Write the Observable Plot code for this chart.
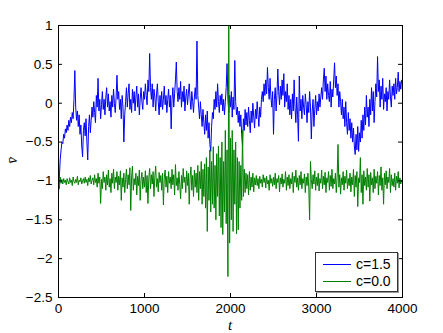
<!DOCTYPE html>
<html><head><meta charset="utf-8">
<script src="https://cdn.jsdelivr.net/npm/d3@7"></script>
<script src="https://cdn.jsdelivr.net/npm/@observablehq/plot@0.6"></script>
<style>
body{margin:0;background:#fff;font-family:"Liberation Sans",Arial,sans-serif}
#wrap{position:relative;width:443px;height:333px;overflow:hidden}
.lab{position:absolute;font-family:"Liberation Serif","DejaVu Serif",serif;font-style:italic;font-size:15px;line-height:1}
.legend{position:absolute;left:315px;top:252px;width:81px;height:38px;border:1px solid #333;background:#fff;box-shadow:1px 1px 0 #999;font-size:14px}
.legend .row{position:absolute;left:0;height:16px;width:81px}
.legend .sw{position:absolute;left:7px;top:8px;width:28px;height:1px}
.legend .tx{position:absolute;left:40px;top:0;line-height:16px}
</style></head><body><div id="wrap"></div>
<script>
const tStep = 10;
const seriesNames = ["c=1.5", "c=0.0"];
const seriesColors = ["#0000ff", "#008000"];
const xTicks = [0, 1000, 2000, 3000, 4000];
const yTicks = [1, 0.5, 0, -0.5, -1, -1.5, -2, -2.5];

const blue = [
-1.15,-0.95,-0.72,-0.60,-0.50,-0.52,-0.40,-0.45,-0.33,-0.38,
-0.28,-0.35,-0.22,-0.30,-0.18,-0.25,-0.12,-0.20,0.05,0.42,
-0.05,-0.22,-0.10,-0.30,-0.15,-0.40,-0.28,-0.55,-0.69,-0.35,
-0.25,-0.42,-0.20,-0.50,-0.73,-0.30,-0.15,-0.38,-0.22,-0.05,
-0.18,0.02,-0.12,-0.25,0.10,-0.05,0.32,-0.10,0.05,-0.20,
-0.02,0.15,-0.08,0.05,-0.15,0.08,0.20,-0.05,0.12,-0.10,
0.02,-0.18,0.10,-0.05,0.18,0.00,-0.12,0.08,0.36,0.05,
0.15,-0.08,0.05,-0.20,0.10,-0.05,-0.50,-0.15,0.02,0.20,
-0.05,0.12,0.25,-0.08,0.05,-0.12,0.18,0.00,0.15,-0.10,
0.08,0.22,-0.05,0.12,-0.15,0.05,0.20,0.02,-0.08,0.15,
0.05,0.25,0.10,-0.02,0.30,0.15,0.64,0.20,0.05,0.25,
-0.05,0.18,0.08,-0.10,0.12,0.25,0.02,-0.15,0.10,-0.05,
0.15,-0.08,0.05,0.22,-0.02,0.10,-0.12,0.05,0.18,-0.05,
0.10,-0.33,0.05,0.20,-0.05,0.12,0.30,0.53,0.15,0.02,
0.20,0.05,0.28,-0.05,0.15,0.02,0.22,-0.10,0.08,0.18,
-0.02,0.12,0.25,0.05,-0.08,0.15,0.02,-0.12,0.08,0.20,
0.05,0.80,0.10,-0.05,-0.20,0.02,-0.15,-0.30,-0.08,-0.25,
-0.40,-0.15,-0.35,-0.10,-0.45,-0.25,-0.53,-0.62,-0.30,-0.12,
-0.20,0.05,-0.08,0.15,-0.05,0.25,0.02,-0.12,0.10,-0.02,
0.12,-0.10,0.05,-0.15,0.02,0.20,0.51,0.05,-0.12,0.10,
-0.05,0.15,-0.18,0.08,-0.08,0.55,0.02,-0.15,-0.05,-0.25,
-0.10,-0.30,-0.15,-0.40,-0.55,-0.20,-0.35,-0.08,-0.28,-0.12,
-0.30,-0.05,-0.22,-0.38,-0.10,-0.25,0.00,-0.18,-0.32,-0.08,
-0.20,0.02,-0.15,-0.30,-0.05,-0.18,0.05,0.15,0.02,0.25,
0.10,0.30,0.12,0.46,0.20,0.05,0.32,0.08,-0.05,0.15,
-0.40,0.05,0.20,-0.10,0.10,0.44,0.15,-0.02,0.22,0.05,
0.30,0.10,0.38,-0.05,0.15,0.02,0.25,-0.08,0.10,-0.15,
0.05,-0.20,0.12,-0.10,0.30,-0.05,-0.25,0.08,-0.15,-0.49,
0.35,-0.10,0.05,-0.20,0.10,-0.05,-0.15,0.12,-0.02,-0.25,
0.02,-0.12,0.15,-0.05,-0.46,-0.10,0.05,-0.30,-0.08,0.10,
-0.15,0.02,-0.10,0.12,-0.05,0.08,0.20,0.05,0.30,0.45,
0.15,0.35,0.05,0.25,0.10,0.02,0.28,-0.05,0.18,0.08,
0.30,0.52,0.20,0.35,0.10,0.25,-0.05,0.15,0.02,-0.15,
0.05,-0.20,-0.05,-0.30,0.02,-0.25,-0.40,-0.12,-0.35,-0.20,
-0.45,-0.25,-0.50,-0.32,-0.55,-0.66,-0.40,-0.60,-0.30,-0.62,
-0.38,-0.50,-0.22,-0.45,-0.15,-0.35,-0.05,-0.28,0.10,-0.18,
-0.05,-0.30,0.05,-0.15,0.20,-0.10,0.15,-0.25,0.02,0.25,
0.08,0.60,0.15,0.30,-0.05,0.22,0.05,0.32,-0.08,0.12,
0.02,0.20,-0.10,0.15,0.05,0.30,0.08,-0.05,0.22,0.10,
0.25,0.05,0.32,0.12,0.20,0.40,0.15,0.28,0.18,0.30,
0.28
];

const green = [
-0.75,-1.10,-0.95,-1.03,-0.98,-1.04,-0.97,-1.02,-0.99,-1.05,
-0.97,-1.01,-1.04,-0.96,-1.02,-0.99,-1.06,-0.95,-1.01,-1.03,
-0.98,-1.02,-0.94,-1.05,-0.99,-1.01,-0.96,-1.04,-1.00,-0.97,
-1.03,-0.95,-1.02,-0.98,-1.06,-0.96,-1.01,-0.93,-1.04,-0.99,
-0.96,-1.05,-0.92,-1.02,-0.97,-1.08,-0.90,-1.03,-0.95,-1.29,
-0.98,-1.10,-0.88,-1.02,-0.95,-1.12,-0.92,-1.05,-0.86,-1.08,
-0.97,-1.15,-0.90,-1.03,-0.85,-1.10,-0.95,-1.02,-0.88,-1.12,
-0.94,-1.05,-0.87,-1.25,-0.96,-1.08,-0.90,-1.15,-0.98,-0.85,
-1.10,-0.92,-1.05,-0.83,-1.38,-0.95,-0.81,-1.12,-0.97,-1.05,
-0.90,-1.18,-0.94,-1.06,-0.86,-1.25,-0.98,-0.89,-1.10,-0.95,
-1.08,-0.87,-1.15,-0.93,-1.29,-0.96,-0.84,-1.10,-0.92,-1.04,
-0.88,-1.20,-0.95,-0.81,-1.08,-0.97,-1.14,-0.89,-1.02,-0.93,
-1.12,-0.90,-1.31,-0.96,-0.86,-1.08,-0.94,-1.15,-0.88,-1.03,
-0.95,-1.10,-0.85,-1.05,-0.92,-1.18,-0.79,-1.06,-0.96,-1.12,
-0.88,-1.05,-1.23,-0.93,-1.10,-0.84,-1.02,-0.95,-1.15,-0.87,
-1.06,-0.90,-1.30,-0.95,-0.82,-1.12,-0.93,-1.20,-0.86,-1.08,
-0.90,-1.15,-0.80,-1.25,-0.88,-1.10,-0.75,-1.30,-0.85,-1.20,
-0.78,-1.35,-0.70,-1.65,-0.82,-1.25,-0.60,-1.40,-0.75,-1.30,
-0.56,-1.35,-0.80,-1.50,-0.65,-1.20,-0.55,-1.45,-0.70,-1.60,
-0.50,-1.69,-0.75,-1.40,-0.35,-1.55,-0.60,-2.23,1.00,-1.80,
-0.45,-1.50,-0.35,-1.65,-0.60,-1.30,-0.50,-1.68,-0.70,-1.63,
-0.75,-1.35,-0.80,-1.25,-0.35,-1.20,-0.85,-1.15,-0.90,-1.10,
-0.92,-1.18,-0.88,-1.12,-0.95,-1.08,-0.90,-1.14,-0.96,-1.05,
-0.93,-1.06,-0.97,-1.10,-0.94,-1.03,-0.98,-1.08,-0.92,-1.02,
-0.96,-1.09,-0.94,-1.04,-0.99,-1.12,-0.92,-1.03,-0.97,-1.07,
-0.95,-1.05,-0.90,-1.10,-0.97,-1.02,-0.93,-1.14,-0.96,-1.04,
-0.91,-1.08,-0.98,-1.03,-0.88,-1.12,-0.95,-1.06,-0.92,-1.10,
-0.97,-1.04,-0.89,-1.15,-0.94,-1.02,-0.86,-1.08,-0.96,-1.12,
-0.93,-1.05,-0.88,-1.10,-0.97,-1.03,-0.91,-1.15,-0.95,-1.06,
-0.90,-1.08,-1.50,-0.75,-0.98,-1.10,-0.92,-1.04,-0.87,-1.12,
-0.95,-1.06,-0.90,-1.13,-0.97,-1.03,-0.86,-1.10,-0.94,-1.05,
-0.89,-1.15,-0.96,-1.02,-0.88,-1.12,-0.93,-1.07,-0.85,-1.10,
-0.97,-1.04,-0.90,-1.15,-0.95,-0.53,-1.08,-0.92,-1.17,-0.96,
-1.05,-0.88,-1.12,-0.94,-1.03,-0.86,-1.10,-0.97,-1.06,-0.90,
-1.14,-0.95,-1.05,-0.85,-1.20,-0.93,-1.08,-0.88,-1.33,-0.96,
-1.02,-0.70,-1.15,-0.92,-1.30,-0.87,-1.06,-0.95,-1.12,-0.84,
-1.08,-0.92,-1.26,-0.89,-1.05,-0.96,-1.15,-0.85,-1.10,-0.94,
-1.03,-0.88,-1.18,-0.93,-1.06,-0.82,-1.12,-0.96,-1.30,-0.90,
-1.05,-0.87,-1.10,-0.95,-1.02,-0.84,-1.15,-0.92,-1.06,-0.97,
-1.08,-0.90,-1.12,-0.94,-1.03,-0.88,-1.09,-0.96,-1.04,-0.99,
-1.00
];

const rows = [
  ...blue.map((v, i) => ({t: i * tStep, v, s: seriesNames[0]})),
  ...green.map((v, i) => ({t: i * tStep, v, s: seriesNames[1]}))
];

const W = 443, H = 333, mL = 58, mR = 41, mT = 25, mB = 36;
const pw = W - mL - mR, ph = H - mT - mB, tk = 4;
const fmt = d => String(d).replace("-", "\u2212");
const chart = Plot.plot({
  width: W, height: H,
  marginLeft: mL, marginRight: mR, marginTop: mT, marginBottom: mB,
  x: {domain: [0, 4000]},
  y: {domain: [-2.5, 1]},
  color: {domain: seriesNames, range: seriesColors},
  style: {fontFamily: "'Liberation Sans', Arial, sans-serif", fontSize: "13.5px", color: "black", background: "white"},
  marks: [
    Plot.line(rows, {x: "t", y: "v", z: "s", stroke: "s", strokeWidth: 1}),
    Plot.frame({stroke: "black"}),
    Plot.tickX(xTicks, {x: d => d, insetTop: ph - tk, stroke: "black"}),
    Plot.tickX(xTicks, {x: d => d, insetBottom: ph - tk, stroke: "black"}),
    Plot.tickY(yTicks, {y: d => d, insetRight: pw - tk, stroke: "black"}),
    Plot.tickY(yTicks, {y: d => d, insetLeft: pw - tk, stroke: "black"}),
    Plot.axisX({ticks: xTicks, tickSize: 0, tickPadding: 6, tickFormat: fmt, label: null}),
    Plot.axisY({ticks: yTicks, tickSize: 0, tickPadding: 6, tickFormat: fmt, label: null})
  ]
});
const wrap = document.getElementById("wrap");
wrap.appendChild(chart);

const yl = document.createElement("div");
yl.className = "lab";
yl.textContent = "v\u0304";
yl.style.left = "9px"; yl.style.top = "153px"; yl.style.transform = "rotate(-90deg)";
wrap.appendChild(yl);
const xl = document.createElement("div");
xl.className = "lab";
xl.textContent = "t";
xl.style.left = "228px"; xl.style.top = "318px";
wrap.appendChild(xl);

const lg = document.createElement("div");
lg.className = "legend";
seriesNames.forEach((n, i) => {
  const r = document.createElement("div");
  r.className = "row";
  r.style.top = (3 + i * 16.5) + "px";
  r.innerHTML = `<div class="sw" style="background:${seriesColors[i]}"></div><div class="tx">${n}</div>`;
  lg.appendChild(r);
});
wrap.appendChild(lg);
</script></body></html>
